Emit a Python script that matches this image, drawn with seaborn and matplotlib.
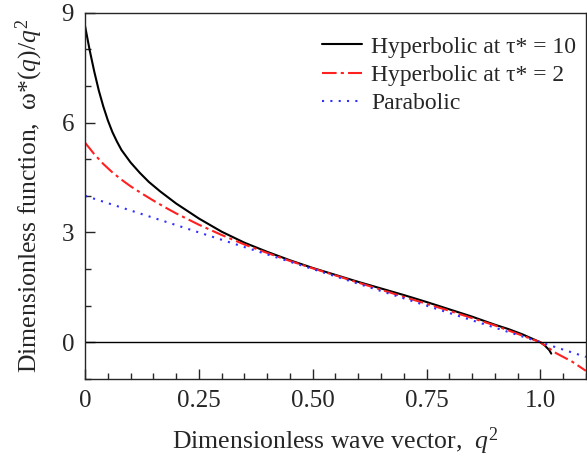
import numpy as np
import pandas as pd
import seaborn as sns
import matplotlib.pyplot as plt
from matplotlib.ticker import MultipleLocator

# values
q2_tau10 = [0, 0.01, 0.02, 0.03, 0.04, 0.05, 0.06, 0.07, 0.08, 0.10, 0.12, 0.14,
            0.165, 0.2, 0.25, 0.3, 0.35, 0.4, 0.45, 0.5, 0.55, 0.6, 0.65, 0.7,
            0.75, 0.8, 0.85, 0.9, 0.93, 0.96, 0.98, 1.0, 1.01, 1.02, 1.024]
f_tau10 = [8.63, 7.98, 7.40, 6.88, 6.44, 6.06, 5.74, 5.48, 5.25, 4.91, 4.63, 4.38,
           4.12, 3.79, 3.38, 3.02, 2.72, 2.47, 2.24, 2.03, 1.84, 1.65, 1.47, 1.29,
           1.10, 0.90, 0.70, 0.48, 0.36, 0.22, 0.11, 0.0, -0.09, -0.22, -0.31]

q2_tau2 = [0, 0.02, 0.04, 0.06, 0.08, 0.1, 0.125, 0.15, 0.175, 0.2, 0.25, 0.3,
           0.35, 0.4, 0.45, 0.5, 0.6, 0.7, 0.8, 0.9, 0.95, 1.0, 1.035, 1.07, 1.1]
f_tau2 = [5.45, 5.14, 4.87, 4.64, 4.44, 4.26, 4.06, 3.87, 3.69, 3.52, 3.21, 2.93,
          2.67, 2.44, 2.22, 2.02, 1.63, 1.24, 0.86, 0.46, 0.23, 0.0, -0.30, -0.53, -0.78]

q2_par = [0, 0.25, 0.5, 0.75, 1.0, 1.1]
f_par = [4.0, 3.0, 2.0, 1.0, 0.0, -0.4]

labels = ['Hyperbolic at τ* = 10', 'Hyperbolic at τ* = 2', 'Parabolic']

df = pd.concat([
    pd.DataFrame({'q2': q2_tau10, 'f': f_tau10, 'model': labels[0]}),
    pd.DataFrame({'q2': q2_tau2, 'f': f_tau2, 'model': labels[1]}),
    pd.DataFrame({'q2': q2_par, 'f': f_par, 'model': labels[2]}),
])

sns.set_style('ticks')
plt.rcParams['font.family'] = ['Liberation Serif', 'DejaVu Serif']
plt.rcParams['mathtext.fontset'] = 'custom'
plt.rcParams['mathtext.rm'] = 'Liberation Serif'
plt.rcParams['mathtext.it'] = 'Liberation Serif:italic'

fig, ax = plt.subplots(figsize=(5.87, 4.57), dpi=100)
fig.subplots_adjust(left=0.145, right=0.998, top=0.972, bottom=0.171)

palette = {labels[0]: 'black', labels[1]: '#ff2020', labels[2]: '#3030ff'}
sns.lineplot(data=df, x='q2', y='f', hue='model', palette=palette,
             sort=False, estimator=None, lw=1.5, ax=ax)
styles = ['-', (0, (7, 2, 1.5, 2)), (0, (1, 3))]
for line, ls in zip(ax.get_lines(), styles):
    line.set_linestyle(ls)

ax.axhline(0, color='black', lw=1.0)

ax.set_xlim(0, 1.1)
ax.set_ylim(-1, 9)
ax.set_xticks([0, 0.25, 0.5, 0.75, 1.0])
ax.set_xticklabels(['0', '0.25', '0.50', '0.75', '1.0'])
ax.set_yticks([0, 3, 6, 9])
ax.xaxis.set_minor_locator(MultipleLocator(0.05))
ax.yaxis.set_minor_locator(MultipleLocator(1))
ax.tick_params(which='both', direction='in', labelsize=18, top=False, right=False)
ax.tick_params(which='major', length=7, width=1, pad=8)
ax.tick_params(which='minor', length=4, width=1)
for s in ax.spines.values():
    s.set_linewidth(1.0)

ax.set_xlabel('Dimensionless wave vector,  $q^2$', fontsize=18.5, labelpad=10)
ax.set_ylabel('Dimensionless function,  ω*($q$)/$q^2$', fontsize=18.5, labelpad=12)

handles = ax.get_lines()[:3]
ax.legend(handles, labels, loc='upper right', bbox_to_anchor=(1.0, 0.962),
          frameon=False, fontsize=17, handlelength=1.7, handletextpad=0.4,
          labelspacing=0.28, borderaxespad=0.0, borderpad=0.4)

plt.savefig('out.png', dpi=100)
